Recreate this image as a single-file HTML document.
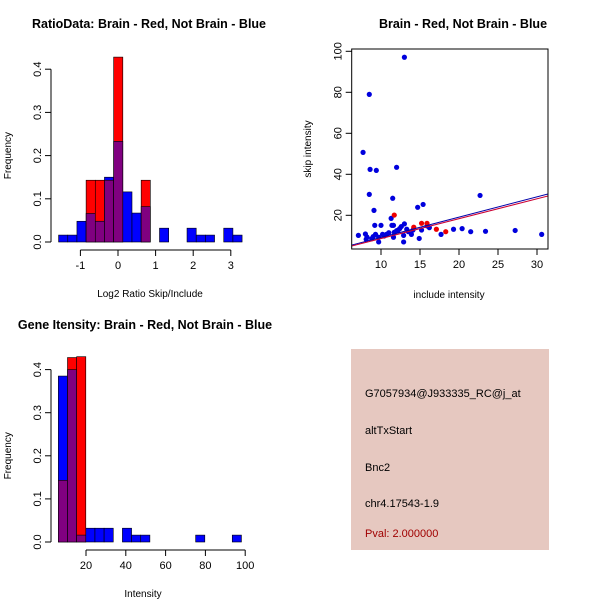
<!DOCTYPE html>
<html><head><meta charset="utf-8"><style>
body{margin:0;background:#fff}
svg{display:block;font-family:"Liberation Sans",sans-serif}
</style></head><body>
<svg id="c" width="600" height="600" viewBox="0 0 600 600">
<rect width="600" height="600" fill="#fff"/>
<g id="p1"></g>
<g id="p2"></g>
<g id="p3"></g>
<g>
<rect x="351" y="349" width="198" height="201" fill="#e6c8c0"/>
<text x="365" y="397" font-size="11">G7057934@J933335_RC@j_at</text>
<text x="365" y="434" font-size="11">altTxStart</text>
<text x="365" y="471" font-size="11">Bnc2</text>
<text x="365" y="507" font-size="11">chr4.17543-1.9</text>
<text x="365" y="537" font-size="11" fill="#a00000">Pval: 2.000000</text>
</g>
</svg>
<script>
// Histogram 1 data
const h1Start=-1.58, h1Width=0.244;
const h1Blue=[0.016,0.016,0.048,0.066,0.048,0.15,0.233,0.116,0.067,0.082,0,0.032,0,0,0.032,0.016,0.016,0,0.032,0.016];
const h1Red=[0,0,0,0.143,0.143,0.143,0.428,0,0,0.143,0,0,0,0,0,0,0,0,0,0];
const h1XTicks=[-1,0,1,2,3];
const h1YTicks=[0.0,0.1,0.2,0.3,0.4];
// Histogram 2 data
const h2Start=6.1, h2Width=4.6;
const h2Blue=[0.385,0.40,0.016,0.032,0.032,0.032,0,0.032,0.016,0.016,0,0,0,0,0,0.016,0,0,0,0.016];
const h2Red=[0.143,0.428,0.43,0,0,0,0,0,0,0,0,0,0,0,0,0,0,0,0,0];
const h2XTicks=[20,40,60,80,100];
const h2YTicks=[0.0,0.1,0.2,0.3,0.4];
// Scatter data
const blueX=[7.1,7.7,8.0,8.1,8.2,8.5,8.5,8.6,8.8,9.0,9.1,9.2,9.3,9.4,9.7,9.7,10.0,10.2,10.4,10.7,11.0,11.3,11.4,11.5,11.6,11.6,11.7,12.0,12.0,12.2,12.4,12.6,12.9,12.9,13.0,13.0,13.3,13.5,13.9,14.1,14.7,14.9,15.2,15.4,15.9,16.2,17.7,19.3,20.4,21.5,22.7,23.4,27.2,30.6];
const blueY=[10.2,50.7,10.9,8.3,9.4,79.0,30.2,42.4,8.6,9.6,22.4,15.1,10.7,41.9,7.0,9.3,15.1,10.7,9.9,10.7,11.5,18.5,15.1,28.3,15.1,9.3,11.7,43.4,12.5,12.8,13.5,14.5,7.0,10.2,97.1,15.8,13.2,12.0,10.7,12.8,23.9,8.7,12.8,25.3,14.8,14.0,10.7,13.2,13.5,12.0,29.7,12.2,12.6,10.7];
const redX=[11.7,14.2,15.2,15.9,17.1,18.3];
const redY=[20.1,14.2,16.1,16.1,13.2,12.0];
const blueFit=[-0.7,0.99];
const redFit=[-1.05,0.97];
const scXTicks=[10,15,20,25,30];
const scYTicks=[20,40,60,80,100];

const NS="http://www.w3.org/2000/svg";
function mk(parent,tag,attrs,name,txt){
  const e=document.createElementNS(NS,tag);
  for(const k in attrs)e.setAttribute(k,attrs[k]);
  
  
  if(txt!==undefined)e.textContent=txt;
  parent.appendChild(e);return e;
}
function hist(g,o){
  const sx=v=>o.x0+(v-o.xv0)*o.kx, sy=v=>o.y0-v*o.ky;
  mk(g,'text',{x:o.tx,y:o.ty,'font-size':12.5,'font-weight':'bold','text-anchor':'middle'},'plot-title',o.title);
  for(let i=0;i<o.blue.length;i++){
    const a=sx(o.start+i*o.w), b=sx(o.start+(i+1)*o.w);
    const bl=o.blue[i], rd=o.red[i], mn=Math.min(bl,rd);
    const bar=(v,c,n)=>{ if(v>0) mk(g,'rect',{x:a,y:sy(v),width:b-a,height:sy(0)-sy(v),fill:c,stroke:'#000','stroke-width':0.6},n); };
    if(bl>=rd){bar(bl,'#0000ff','bar-blue');}
    else{bar(rd,'#ff0000','bar-red');}
    bar(mn,'#800080','bar-overlap');
  }
  const yt=o.yt;
  mk(g,'line',{x1:o.ax,x2:o.ax,y1:sy(yt[0]),y2:sy(yt[yt.length-1]),stroke:'#000'},'y-axis');
  yt.forEach(v=>{
    mk(g,'line',{x1:o.ax-6,x2:o.ax,y1:sy(v),y2:sy(v),stroke:'#000'},'y-tick');
    mk(g,'text',{x:0,y:0,'font-size':11,'text-anchor':'middle',transform:`translate(${o.ax-10},${sy(v)}) rotate(-90)`},'y-tick-label',v.toFixed(1));
  });
  mk(g,'text',{x:0,y:0,'font-size':10,'text-anchor':'middle',transform:`translate(11,${sy(0.2)}) rotate(-90)`},'y-axis-title','Frequency');
  const xt=o.xt;
  mk(g,'line',{x1:sx(xt[0]),x2:sx(xt[xt.length-1]),y1:o.ay,y2:o.ay,stroke:'#000'},'x-axis');
  xt.forEach(v=>{
    mk(g,'line',{x1:sx(v),x2:sx(v),y1:o.ay,y2:o.ay+6,stroke:'#000'},'x-tick');
    mk(g,'text',{x:sx(v),y:o.ay+19,'font-size':11,'text-anchor':'middle'},'x-tick-label',String(v));
  });
  mk(g,'text',{x:o.lx,y:o.ay+47,'font-size':10,'text-anchor':'middle'},'x-axis-title',o.xlab);
}
hist(document.getElementById('p1'),{x0:118,xv0:0,kx:37.6,y0:242,ky:432,start:h1Start,w:h1Width,blue:h1Blue,red:h1Red,
  xt:h1XTicks,yt:h1YTicks,ax:51,ay:250,tx:149,ty:28,lx:150,title:'RatioData: Brain - Red, Not Brain - Blue',xlab:'Log2 Ratio Skip/Include'});
hist(document.getElementById('p3'),{x0:46.2,xv0:0,kx:1.99,y0:542,ky:431,start:h2Start,w:h2Width,blue:h2Blue,red:h2Red,
  xt:h2XTicks,yt:h2YTicks,ax:51,ay:550,tx:145,ty:329,lx:143,title:'Gene Itensity: Brain - Red, Not Brain - Blue',xlab:'Intensity'});

(function(){
  const g=document.getElementById('p2');
  const L=351.7,R=548,T=49,B=249;
  const sx=v=>303+v*7.8, sy=v=>256.3-v*2.05;
  mk(g,'text',{x:463,y:28,'font-size':12.5,'font-weight':'bold','text-anchor':'middle'},'plot-title','Brain - Red, Not Brain - Blue');
  const cp=mk(g,'clipPath',{id:'clip2'},'plot-clip');
  mk(cp,'rect',{x:L,y:T,width:R-L,height:B-T},'clip-rect');
  const inner=mk(g,'g',{'clip-path':'url(#clip2)'},'plot-area');
  blueX.forEach((x,i)=>mk(inner,'circle',{cx:sx(x),cy:sy(blueY[i]),r:2.6,fill:'#0000dd'},'point-not-brain'));
  redX.forEach((x,i)=>mk(inner,'circle',{cx:sx(x),cy:sy(redY[i]),r:2.6,fill:'#ee0000'},'point-brain'));
  const x1=(L-303)/7.8,x2=(R-303)/7.8;
  mk(inner,'line',{x1:L,x2:R,y1:sy(blueFit[0]+blueFit[1]*x1),y2:sy(blueFit[0]+blueFit[1]*x2),stroke:'#0000aa','stroke-width':1},'fit-line-blue');
  mk(inner,'line',{x1:L,x2:R,y1:sy(redFit[0]+redFit[1]*x1),y2:sy(redFit[0]+redFit[1]*x2),stroke:'#cc0033','stroke-width':1},'fit-line-red');
  mk(g,'rect',{x:L,y:T,width:R-L,height:B-T,fill:'none',stroke:'#000'},'plot-box');
  scYTicks.forEach(v=>{
    mk(g,'line',{x1:L-6,x2:L,y1:sy(v),y2:sy(v),stroke:'#000'},'y-tick');
    mk(g,'text',{x:0,y:0,'font-size':11,'text-anchor':'middle',transform:`translate(${L-10},${sy(v)}) rotate(-90)`},'y-tick-label',String(v));
  });
  scXTicks.forEach(v=>{
    mk(g,'line',{x1:sx(v),x2:sx(v),y1:B,y2:B+6,stroke:'#000'},'x-tick');
    mk(g,'text',{x:sx(v),y:B+19,'font-size':11,'text-anchor':'middle'},'x-tick-label',String(v));
  });
  mk(g,'text',{x:449,y:298,'font-size':10,'text-anchor':'middle'},'x-axis-title','include intensity');
  mk(g,'text',{x:0,y:0,'font-size':10,'text-anchor':'middle',transform:`translate(311,149) rotate(-90)`},'y-axis-title','skip intensity');
})();
</script>
</body></html>
